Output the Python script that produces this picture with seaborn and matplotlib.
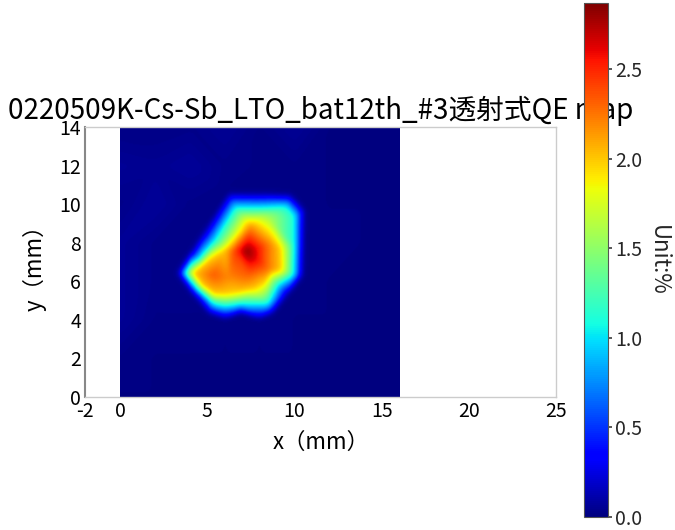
import numpy as np
import matplotlib
matplotlib.use("Agg")
import matplotlib.pyplot as plt
import matplotlib.tri as mtri
import seaborn as sns

# ---------------- data ----------------
title_text = "0220509K-Cs-Sb_LTO_bat12th_#3透射式QE map"
x_label = "x（mm）"
y_label = "y（mm）"
cbar_label = "Unit:%"

# background measurement grid (mm) and QE values (%); NaN = inside spot (given below)
bg_x = [0, 2, 4, 6, 8, 10, 12, 14, 16]
bg_y = [0, 2, 4, 6, 8, 10, 12, 14]
bg_z = [
    [0.01, 0.01, 0.01, 0.01, 0.01, 0.01, 0.01, 0.01, 0.01],
    [0.02, 0.01, 0.01, 0.01, 0.01, 0.01, 0.01, 0.01, 0.01],
    [0.06, 0.02, 0.02, 0.01, 0.01, 0.01, 0.01, 0.01, 0.01],
    [0.06, 0.03, np.nan, np.nan, np.nan, np.nan, 0.01, 0.01, 0.01],
    [0.06, 0.03, np.nan, np.nan, np.nan, np.nan, 0.02, 0.01, 0.01],
    [0.03, 0.07, 0.03, np.nan, np.nan, np.nan, 0.01, 0.01, 0.01],
    [0.06, 0.05, 0.07, 0.03, 0.02, 0.02, 0.01, 0.01, 0.01],
    [0.02, 0.02, 0.03, 0.06, 0.02, 0.06, 0.01, 0.01, 0.01],
]

# spot edge (near-zero ring)
ring_x = [3.25, 4.15, 5.05, 6.9, 8.75, 9.62, 10.5, 10.55, 10.6, 10.2, 9.75, 8.0, 6.2, 5.46, 4.74, 4.03]
ring_y = [6.42, 5.30, 4.30, 4.3, 4.30, 5.28, 6.3, 8.0, 9.7, 10.14, 10.55, 10.6, 10.62, 9.59, 8.56, 7.54]
ring_z = [0.03, 0.03, 0.02, 0.02, 0.02, 0.02, 0.02, 0.02, 0.02, 0.02, 0.02, 0.02, 0.02, 0.02, 0.03, 0.03]

# cyan level band
cyan_x = [3.7, 4.47, 5.35, 6.9, 8.45, 9.0, 9.9, 9.95, 9.95, 9.5, 8.0, 6.6, 5.43, 4.56]
cyan_y = [6.42, 5.58, 4.85, 4.85, 4.85, 5.84, 6.35, 7.9, 9.4, 9.85, 9.8, 9.8, 8.07, 7.16]
cyan_z = [1.1, 1.1, 1.1, 1.1, 1.1, 1.1, 1.1, 1.1, 1.1, 1.1, 1.1, 1.1, 1.1, 1.1]

# green / yellow band
yel_x = [4.15, 4.7, 5.35, 6.0, 6.75, 7.6, 8.3, 9.2, 9.15, 7.5, 5.96, 4.9, 8.6, 8.3]
yel_y = [6.42, 5.75, 5.35, 5.35, 5.45, 5.6, 6.0, 6.6, 7.7, 9.05, 7.6, 7.0, 9.2, 9.5]
yel_z = [2.0, 2.0, 2.0, 2.0, 2.0, 2.0, 2.0, 2.0, 2.0, 2.0, 2.0, 2.0, 1.6, 1.5]

# core
core_x = [7.25, 7.43, 5.33, 6.2, 7.4, 8.5, 8.5, 6.6]
core_y = [7.55, 8.8, 6.33, 6.2, 6.4, 6.6, 7.9, 7.6]
core_z = [2.87, 2.2, 2.35, 2.2, 2.35, 2.25, 2.25, 2.45]

x_ticks = [-2, 0, 5, 10, 15, 20, 25]
y_ticks = [0, 2, 4, 6, 8, 10, 12, 14]
cbar_ticks = [0.0, 0.5, 1.0, 1.5, 2.0, 2.5]
qe_max = 2.87

# ---------------- build map ----------------
pts_x, pts_y, pts_z = [], [], []
for j, yy in enumerate(bg_y):
    for i, xx in enumerate(bg_x):
        v = bg_z[j][i]
        if not np.isnan(v):
            pts_x.append(xx); pts_y.append(yy); pts_z.append(v)
pts_x += ring_x + cyan_x + yel_x + core_x
pts_y += ring_y + cyan_y + yel_y + core_y
pts_z += ring_z + cyan_z + yel_z + core_z

tri = mtri.Triangulation(np.array(pts_x, float), np.array(pts_y, float))
interp = mtri.LinearTriInterpolator(tri, np.array(pts_z, float))
step = 0.05
gx = np.arange(0, 16 + step / 2, step)
gy = np.arange(0, 14 + step / 2, step)
GX, GY = np.meshgrid(gx, gy)
Z = np.ma.filled(interp(GX, GY), 0.0)

# soft smoothing of the linear map (separable gaussian, sigma in grid cells)
sig = 3.0
rad = int(3 * sig)
k = np.exp(-0.5 * (np.arange(-rad, rad + 1) / sig) ** 2)
k /= k.sum()
Zp = np.pad(Z, rad, mode="edge")
Zp = np.apply_along_axis(lambda r: np.convolve(r, k, mode="same"), 1, Zp)
Zp = np.apply_along_axis(lambda c: np.convolve(c, k, mode="same"), 0, Zp)
Z = Zp[rad:-rad, rad:-rad]

# ---------------- plot ----------------
sns.set_theme(style="white")
plt.rcParams["font.family"] = ["Noto Sans CJK SC", "DejaVu Sans"]
plt.rcParams["axes.unicode_minus"] = False

fig = plt.figure(figsize=(6.75, 5.30), dpi=100)
ax = fig.add_axes([0.126, 0.251, 0.698, 0.509])
im = ax.imshow(Z, extent=[0, 16, 0, 14], origin="lower", cmap="jet",
               vmin=0, vmax=qe_max, aspect="auto", interpolation="bilinear")
ax.set_xlim(-2, 25)
ax.set_ylim(0, 14)
ax.set_xticks(x_ticks)
ax.set_yticks(y_ticks)
ax.tick_params(axis="both", labelsize=14, length=2, width=0.8, color="#888888",
               pad=1, labelcolor="black", direction="out")
for side in ["top", "right", "bottom"]:
    ax.spines[side].set_color("#cccccc")
    ax.spines[side].set_linewidth(1.0)
ax.spines["left"].set_color("#888888")
ax.spines["left"].set_linewidth(1.5)
ax.set_xlabel(x_label, fontsize=16, labelpad=6, color="black")
ax.set_ylabel(y_label, fontsize=16, labelpad=9, color="black")
ax.set_title(title_text, fontsize=20, pad=6, color="black")

cax = fig.add_axes([0.865, 0.0245, 0.036, 0.9695])
cb = fig.colorbar(im, cax=cax, ticks=cbar_ticks)
cb.ax.set_yticklabels([f"{t:.1f}" for t in cbar_ticks])
cb.ax.tick_params(labelsize=14, length=3, color="#444444", pad=2)
cb.outline.set_edgecolor("#555555")
cb.outline.set_linewidth(0.8)
cb.set_label(cbar_label, rotation=270, fontsize=16, labelpad=20)

fig.savefig("out.png", dpi=100)
